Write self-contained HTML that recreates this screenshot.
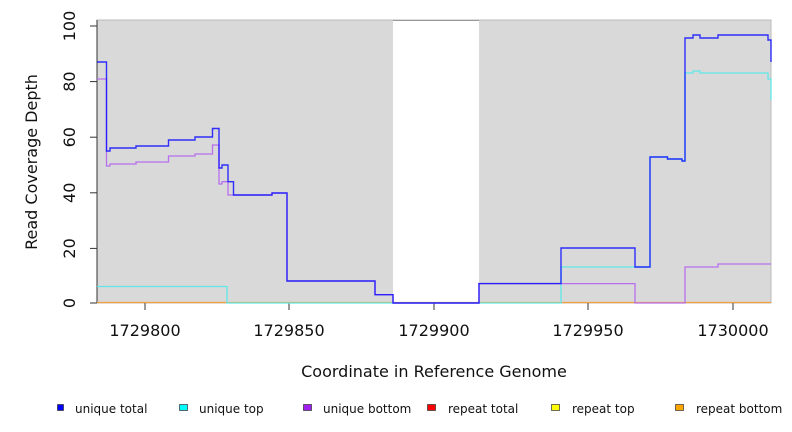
<!DOCTYPE html>
<html><head><meta charset="utf-8"><style>
body{margin:0;background:#fff;}
svg{display:block;font-family:"DejaVu Sans","Liberation Sans",sans-serif;}
</style></head><body>
<svg width="792" height="432" viewBox="0 0 792 432">
<rect x="97" y="20" width="296" height="283" fill="#d9d9d9"/>
<rect x="479" y="20" width="292" height="283" fill="#d9d9d9"/>
<line x1="393" y1="20.5" x2="479" y2="20.5" stroke="#777" stroke-width="1"/>
<rect x="97" y="20" width="674" height="283" fill="none" stroke="#bbb" stroke-width="1"/>
<!-- axes -->
<line x1="97" y1="20" x2="97" y2="303" stroke="#333"/>
<g stroke="#333">
<line x1="90" y1="26" x2="97" y2="26"/><line x1="90" y1="81.6" x2="97" y2="81.6"/>
<line x1="90" y1="137.2" x2="97" y2="137.2"/><line x1="90" y1="192.8" x2="97" y2="192.8"/>
<line x1="90" y1="248.4" x2="97" y2="248.4"/><line x1="90" y1="303" x2="97" y2="303"/>
<line x1="145" y1="303" x2="145" y2="310"/><line x1="289" y1="303" x2="289" y2="310"/>
<line x1="434" y1="303" x2="434" y2="310"/><line x1="588" y1="303" x2="588" y2="310"/>
<line x1="733" y1="303" x2="733" y2="310"/>
</g>
<g font-size="16" fill="#111" text-anchor="middle">
<text transform="translate(75,26) rotate(-90)">100</text>
<text transform="translate(75,81.6) rotate(-90)">80</text>
<text transform="translate(75,137.2) rotate(-90)">60</text>
<text transform="translate(75,192.8) rotate(-90)">40</text>
<text transform="translate(75,248.4) rotate(-90)">20</text>
<text transform="translate(75,303) rotate(-90)">0</text>
<text x="145" y="336">1729800</text><text x="289" y="336">1729850</text>
<text x="434" y="336">1729900</text><text x="588" y="336">1729950</text>
<text x="733" y="336">1730000</text>
<text x="434" y="377">Coordinate in Reference Genome</text>
<text transform="translate(37,162) rotate(-90)">Read Coverage Depth</text>
</g>
<line x1="97" y1="302.5" x2="771" y2="302.5" stroke="#f0a040" stroke-width="1.2"/>
<!-- cyan -->
<polyline fill="none" stroke="#60e8e8" stroke-width="1.3" points="97,286.5 227,286.5 227,303 561,303 561,267 650,267 650,157 667.5,157 667.5,159 682,159 682,161 685,161 685,73 693,73 693,71 700,71 700,73 768,73 768,79 771,79 771,100"/>
<!-- purple -->
<polyline fill="none" stroke="#b870ee" stroke-width="1.3" points="97,79 106.5,79 106.5,166 110,166 110,164 136,164 136,162 168.5,162 168.5,156 195,156 195,154 212.5,154 212.5,145 219,145 219,184 222,184 222,181.7 228,181.7 228,195 272,195 272,193 287,193 287,281 375,281 375,294.7 393,294.7 393,303 479,303 479,283.6 635,283.6 635,303 685,303 685,267 718,267 718,264 771,264"/>
<!-- blue -->
<polyline fill="none" stroke="#1010ff" stroke-opacity="0.85" stroke-width="1.4" points="97,62 106.5,62 106.5,151 110,151 110,148 136,148 136,146 168.5,146 168.5,140 195,140 195,137 212.5,137 212.5,128.5 219,128.5 219,168 222,168 222,165 228,165 228,181.7 233.5,181.7 233.5,195 272,195 272,193 287,193 287,281 375,281 375,294.7 393,294.7 393,303 479,303 479,283.6 561,283.6 561,248 635,248 635,267 650,267 650,157 667.5,157 667.5,159 682,159 682,161 685,161 685,38 693,38 693,35 700,35 700,38 718,38 718,35 768,35 768,40 771,40 771,62"/>
<!-- legend -->
<g font-size="12" fill="#111">
<rect x="57.5" y="404.5" width="6" height="6" fill="#0000ff" stroke="#333" stroke-width="0.7"/><text x="75" y="413">unique total</text>
<rect x="179.5" y="404.5" width="8" height="6" fill="#00ffff" stroke="#333" stroke-width="0.7"/><text x="199" y="413">unique top</text>
<rect x="303.5" y="404.5" width="8" height="6" fill="#a020f0" stroke="#333" stroke-width="0.7"/><text x="323" y="413">unique bottom</text>
<rect x="427.5" y="404.5" width="8" height="6" fill="#ff0000" stroke="#333" stroke-width="0.7"/><text x="448" y="413">repeat total</text>
<rect x="551.5" y="404.5" width="8" height="6" fill="#ffff00" stroke="#333" stroke-width="0.7"/><text x="572" y="413">repeat top</text>
<rect x="675.5" y="404.5" width="8" height="6" fill="#ffa500" stroke="#333" stroke-width="0.7"/><text x="696" y="413">repeat bottom</text>
</g>
</svg>
</body></html>
